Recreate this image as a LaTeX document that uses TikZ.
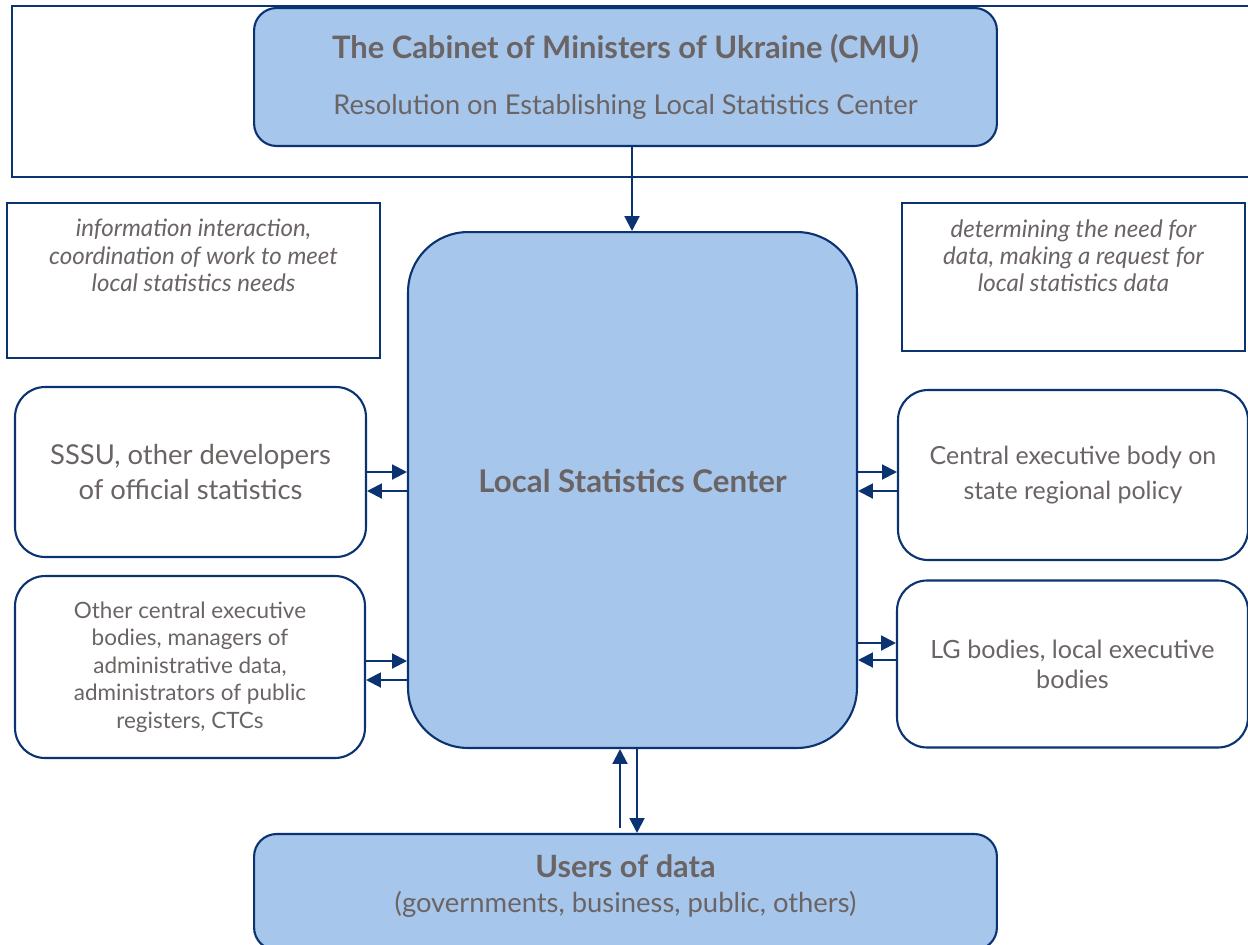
\documentclass[tikz,border=0pt]{standalone}
\usepackage{fontspec}
\setmainfont{Lato}
\usetikzlibrary{arrows.meta,positioning}
\definecolor{cmublue}{HTML}{A7C6EC}
\definecolor{cmuline}{HTML}{0B3271}
\definecolor{cmutext}{HTML}{6B6464}

\begin{document}
\begin{tikzpicture}[x=0.02cm,y=-0.02cm,
    bluebox/.style={draw=cmuline,line width=1.2pt,fill=cmublue,rounded corners=0.45cm,text=cmutext,align=center,inner sep=0pt},
    whitebox/.style={draw=cmuline,line width=1.2pt,fill=white,rounded corners=0.6cm,text=cmutext,align=center,inner sep=0pt},
    notebox/.style={draw=cmuline,line width=1pt,fill=white,inner sep=0pt},
    notetext/.style={text=cmutext,align=center,font=\fontsize{13.7}{15.5}\selectfont\itshape},
    arr/.style={draw=cmuline,line width=1.2pt,-{Triangle[length=8.5pt,width=8.5pt]}}]
            \useasboundingbox (0,0) rectangle (1248,944);
            % outer frame round the CMU box
            \draw [cmuline,line width=1pt] (1260,6) -- (12,6) -- (12,177) -- (1260,177);
            \node [bluebox,minimum width=14.86cm,minimum height=2.76cm] (cmu) at (625.5,77)
                {{\fontsize{17.6}{20}\selectfont\bfseries The Cabinet of Ministers of Ukraine (CMU)}\\[17pt]
                 {\fontsize{15.5}{18}\selectfont Resolution on Establishing Local Statistics Center}};
            % notes
            \node [notebox,minimum width=7.46cm,minimum height=3.1cm,
                label={[notetext,anchor=north,yshift=-0.22cm]north:information interaction,\\coordination of work to meet\\local statistics needs}] (infonote) at (193.5,280.5) {};
            \node [notebox,minimum width=6.86cm,minimum height=2.96cm,
                label={[notetext,anchor=north,yshift=-0.22cm]north:determining the need for\\data, making a request for\\local statistics data}] (neednote) at (1073.5,277) {};
            % center
            \node [bluebox,rounded corners=1.2cm,minimum width=8.98cm,minimum height=10.32cm,
                font=\fontsize{17.8}{20}\selectfont\bfseries] (lsc) at (632.5,490) {\raisebox{10pt}{Local Statistics Center}};
            % left side
            \node [whitebox,minimum width=7.02cm,minimum height=3.4cm,font=\fontsize{15.6}{19.5}\selectfont] (sssu) at (190.5,472)
                {SSSU, other developers\\of official statistics};
            \node [whitebox,minimum width=7.0cm,minimum height=3.64cm,font=\fontsize{12.8}{15.6}\selectfont] (ceb) at (190,667)
                {Other central executive\\bodies, managers of\\administrative data,\\administrators of public\\registers, CTCs};
            % right side
            \node [whitebox,minimum width=7.0cm,minimum height=3.4cm,font=\fontsize{14.2}{17}\selectfont] (regpol) at (1073,475)
                {Central executive body on\\\raisebox{-3pt}{state regional policy}};
            \node [whitebox,minimum width=7.02cm,minimum height=3.34cm,font=\fontsize{14.3}{17}\selectfont] (lgb) at (1072.5,664)
                {LG bodies, local executive\\bodies};
            % users
            \node [bluebox,minimum width=14.86cm,minimum height=2.32cm,
                label={[text=cmutext,align=center,anchor=north,yshift=-0.3cm]north:{\fontsize{17.5}{20}\selectfont\bfseries Users of data}\\[7pt]{\fontsize{15.6}{18}\selectfont(governments, business, public, others)}}] (users) at (625.5,892) {};
            % connectors
            \draw [arr] (cmu.south -| 632,0) -- (lsc.north -| 632,0);
            \draw [arr] (sssu.east |- 0,472) -- (lsc.west |- 0,472);
            \draw [arr] (lsc.west |- 0,491) -- (sssu.east |- 0,491);
            \draw [arr] (ceb.east |- 0,661) -- (lsc.west |- 0,661);
            \draw [arr] (lsc.west |- 0,680) -- (ceb.east |- 0,680);
            \draw [arr] (lsc.east |- 0,472) -- (regpol.west |- 0,472);
            \draw [arr] (regpol.west |- 0,491) -- (lsc.east |- 0,491);
            \draw [arr] (lsc.east |- 0,643) -- (lgb.west |- 0,643);
            \draw [arr] (lgb.west |- 0,660) -- (lsc.east |- 0,660);
            \draw [arr] (620,828) -- (lsc.south -| 620,0);
            \draw [arr] (lsc.south -| 637,0) -- (users.north -| 637,0);
        \end{tikzpicture}
\end{document}
